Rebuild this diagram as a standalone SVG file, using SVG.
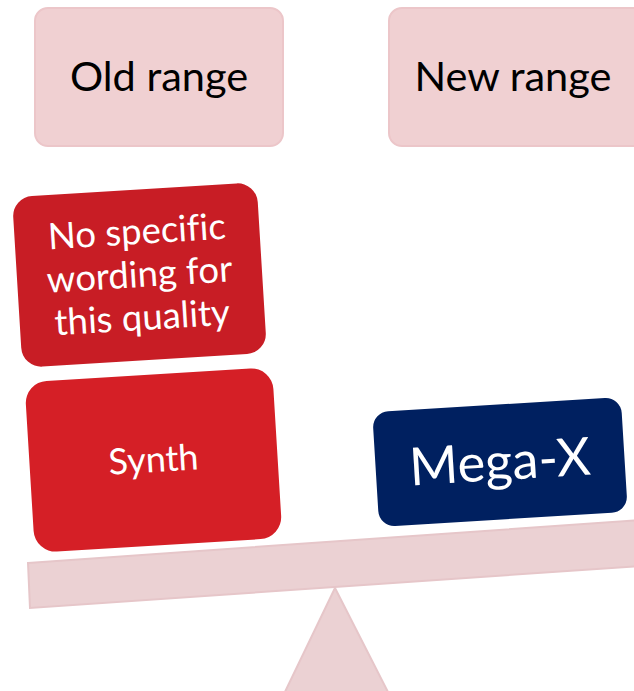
<svg xmlns="http://www.w3.org/2000/svg" width="634" height="691" viewBox="0 0 634 691">
<style>
.hdr{fill:#f0d0d2;stroke:#ecc6c9;stroke-width:2}
.hdrt{font-family:Lato,"Open Sans",sans-serif;font-size:41.5px;fill:#000;text-anchor:middle}
.wt{font-family:Lato,"Open Sans",sans-serif;fill:#fff;text-anchor:middle;font-variant-ligatures:none}
.seesaw{fill:#ebd1d3;stroke:#e6c6c9;stroke-width:2}
</style>
<rect width="634" height="691" fill="#fff"/>
<g id="fulcrum"><polygon class="seesaw" points="335,588 283,696 390,696"/></g>
<g id="beam"><polygon class="seesaw" points="28,563 640,520 640,566 30,608"/></g>
<g id="old-range"><rect class="hdr" x="35" y="8" width="248" height="138" rx="13"/><text class="hdrt" x="159" y="91">Old range</text></g>
<g id="new-range"><rect class="hdr" x="389" y="8" width="260" height="138" rx="13"/><text class="hdrt" x="513" y="91">New range</text></g>
<g id="no-specific" transform="translate(139.5,275) rotate(-3.5)"><rect x="-122.5" y="-85.5" width="245" height="171" rx="20" fill="#c81d25"/><text class="wt" font-size="36.5" y="-31">No specific</text><text class="wt" font-size="36.5" y="12">wording for</text><text class="wt" font-size="36.5" y="55">this quality</text></g>
<g id="synth" transform="translate(153.5,460) rotate(-3.5)"><rect x="-124" y="-85.5" width="248" height="171" rx="22" fill="#d51f26"/><text class="wt" font-size="36" y="12">Synth</text></g>
<g id="mega-x" transform="translate(500,462) rotate(-3.5)"><rect x="-124.5" y="-57.5" width="249" height="115" rx="16" fill="#002060"/><text class="wt" font-size="52.5" y="18">Mega-X</text></g>
<g id="connectors"/>
</svg>
